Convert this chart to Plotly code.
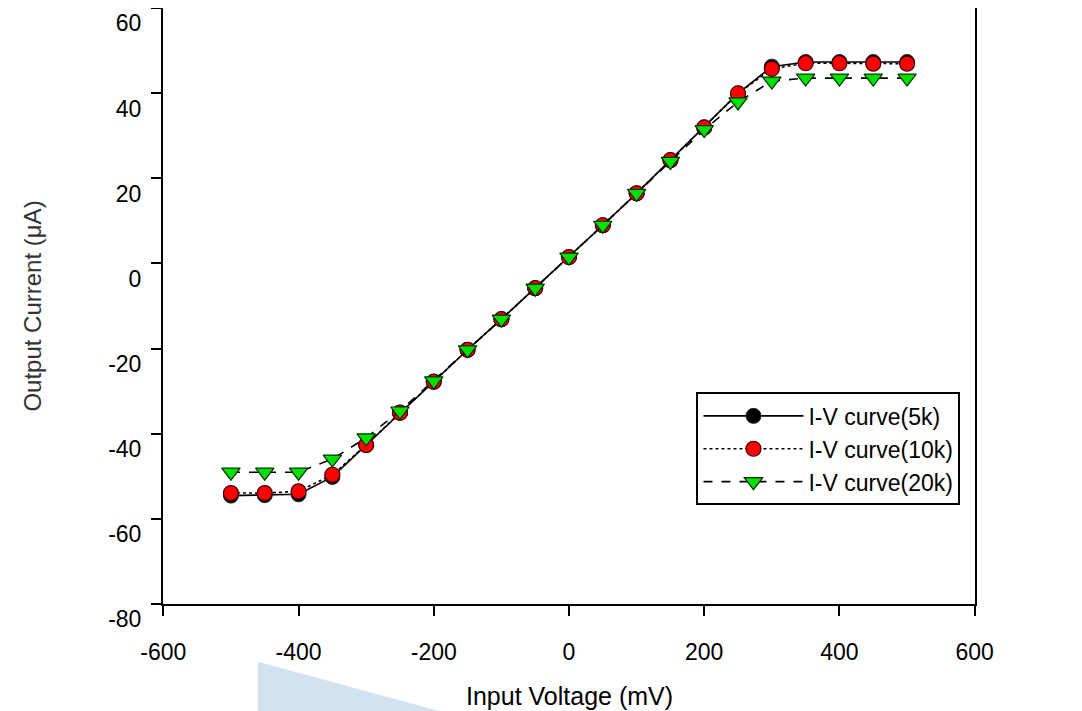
import plotly.graph_objects as go

x_mv = [-500, -450, -400, -350, -300, -250, -200, -150, -100, -50, 0,
        50, 100, 150, 200, 250, 300, 350, 400, 450, 500]
y_5k = [-54.6, -54.5, -54.3, -50.2, -42.7, -35.1, -27.8, -20.3, -13.1, -5.8, 1.5,
        9.0, 16.5, 24.3, 32.0, 40.0, 46.3, 47.4, 47.4, 47.4, 47.4]
y_10k = [-54.0, -54.0, -53.6, -49.7, -42.7, -35.1, -27.8, -20.3, -13.1, -5.8, 1.5,
         9.0, 16.5, 24.3, 32.0, 40.0, 45.8, 47.1, 47.1, 47.0, 47.0]
y_20k = [-49.1, -49.1, -49.1, -46.0, -41.0, -34.7, -27.6, -20.3, -13.1, -5.8, 1.5,
         9.0, 16.5, 24.0, 31.5, 38.0, 42.9, 43.6, 43.6, 43.6, 43.6]

x_ticks = [-600, -400, -200, 0, 200, 400, 600]
y_ticks = [-80, -60, -40, -20, 0, 20, 40, 60]

FONT = "Liberation Sans, Arial"

fig = go.Figure()
fig.add_trace(go.Scatter(
    x=x_mv, y=y_5k, name="I-V curve(5k)", mode="lines+markers",
    line=dict(color="black", width=1.6, dash="solid"),
    marker=dict(symbol="circle", size=15, color="black", line=dict(color="#222", width=1))))
fig.add_trace(go.Scatter(
    x=x_mv, y=y_10k, name="I-V curve(10k)", mode="lines+markers",
    line=dict(color="black", width=1.6, dash="dot"),
    marker=dict(symbol="circle", size=15, color="#ff0000", line=dict(color="#400000", width=1.2))))
fig.add_trace(go.Scatter(
    x=x_mv, y=y_20k, name="I-V curve(20k)", mode="lines+markers",
    line=dict(color="black", width=1.6, dash="dash"),
    marker=dict(symbol="triangle-down", size=16, color="#00e000", line=dict(color="#003000", width=1.2))))

axis_common = dict(
    showline=True, linecolor="black", linewidth=2, mirror=True,
    ticks="outside", ticklen=10, tickwidth=2, tickcolor="black",
    showgrid=False, zeroline=False, automargin=False,
    ticklabeloverflow="allow",
    tickfont=dict(family=FONT, size=23, color="black"),
)

fig.update_xaxes(range=[-600.5, 600.5], tickvals=x_ticks, ticktext=[str(v) for v in x_ticks],
                 ticklabelstandoff=16, **axis_common)
fig.update_yaxes(range=[-80.1, 60.1], tickvals=y_ticks, ticktext=[str(v) for v in y_ticks],
                 ticklabelshift=15, ticklabelstandoff=5,
                 title=dict(text="Output Current (μA)", standoff=60,
                            font=dict(family=FONT, size=24, color="#333")),
                 **axis_common)

fig.add_annotation(text="Input Voltage (mV)", xref="paper", yref="paper",
                   x=0.5, y=-0.155, xanchor="center", yanchor="middle",
                   showarrow=False, font=dict(family=FONT, size=25, color="black"))

fig.add_shape(type="path", xref="paper", yref="paper",
              path="M 0.117 -0.097 L 0.341 -0.18 L 0.117 -0.18 Z",
              fillcolor="#d3e2f1", line=dict(width=0), layer="below")

fig.update_layout(
    width=1082, height=711,
    margin=dict(l=155, r=115, t=0, b=115),
    paper_bgcolor="white", plot_bgcolor="white",
    font=dict(family=FONT, color="black"),
    legend=dict(x=0.657, y=0.355, xanchor="left", yanchor="top",
                bgcolor="white", bordercolor="black", borderwidth=2,
                font=dict(size=23, family=FONT, color="black"),
                itemwidth=100, tracegroupgap=0),
    showlegend=True,
)

fig.write_html("out.html")
